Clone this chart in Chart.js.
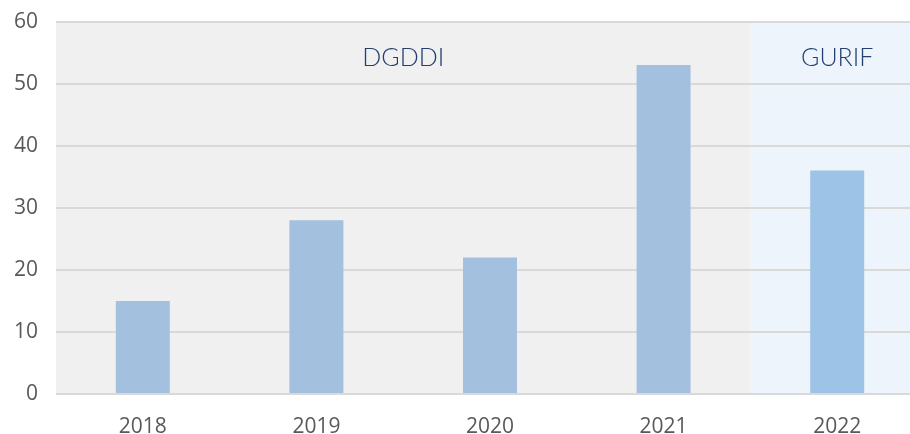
<!DOCTYPE html>
<html>
<head>
<meta charset="utf-8">
<script src="https://cdn.jsdelivr.net/npm/chart.js@4/dist/chart.umd.min.js"></script>
<style>
  html, body { margin: 0; padding: 0; background: #fff; overflow: hidden; }
  #wrap { width: 924px; height: 443px; margin-top: -9px; }
</style>
</head>
<body>
<div id="wrap"><canvas id="myChart"></canvas></div>
<script>
var years = ["2018", "2019", "2020", "2021", "2022"];
var values = [15, 28, 22, 53, 36];
var barColors = ["#a3c1df", "#a3c1df", "#a3c1df", "#a3c1df", "#9dc3e6"];
// shaded periods: first and last category index of each
var periodNames = ["DGDDI", "GURIF"];
var periodStart = [0, 4];
var periodEnd = [3, 4];
var periodColors = ["#f0f0f0", "#edf4fb"];

var bands = {
  id: "bands",
  beforeDraw: function (chart) {
    var ctx = chart.ctx;
    var x = chart.scales.x, y = chart.scales.y;
    var top = y.getPixelForValue(60), bottom = y.getPixelForValue(0);
    for (var i = 0; i < periodNames.length; i++) {
      var l = x.getPixelForValue(periodStart[i] - 0.5);
      var r = x.getPixelForValue(periodEnd[i] + 0.5);
      ctx.save();
      ctx.fillStyle = periodColors[i];
      ctx.fillRect(l, top, r - l, bottom - top);
      ctx.restore();
    }
  },
  afterDatasetsDraw: function (chart) {
    var ctx = chart.ctx;
    var x = chart.scales.x, y = chart.scales.y;
    ctx.save();
    ctx.font = "300 25px Lato";
    ctx.fillStyle = "#22406f";
    ctx.textAlign = "center";
    ctx.textBaseline = "middle";
    for (var i = 0; i < periodNames.length; i++) {
      var l = x.getPixelForValue(periodStart[i] - 0.5);
      var r = x.getPixelForValue(periodEnd[i] + 0.5);
      ctx.fillText(periodNames[i], (l + r) / 2, y.getPixelForValue(54.1));
    }
    ctx.restore();
  }
};

var ctx = document.getElementById("myChart");
var myChart = new Chart(ctx, {
  type: "bar",
  data: {
    labels: years,
    datasets: [{
      data: values,
      backgroundColor: barColors,
      barPercentage: 0.311,
      categoryPercentage: 1
    }]
  },
  options: {
    responsive: true,
    maintainAspectRatio: false,
    animation: false,
    layout: { padding: { top: 4, right: 0, bottom: 0, left: 0 } },
    plugins: { legend: { display: false }, tooltip: { enabled: false } },
    scales: {
      x: {
        afterFit: function (s) { s.height = 40; },
        grid: { display: false, drawTicks: false },
        border: { display: false },
        ticks: { color: "#595959", font: { family: "Open Sans", size: 21 }, padding: 20 }
      },
      y: {
        min: 0,
        max: 60,
        afterFit: function (s) { s.width = 56; },
        grid: { color: "#d9d9d9", lineWidth: 2, drawTicks: false },
        border: { display: false },
        ticks: { stepSize: 10, color: "#595959", font: { family: "Open Sans", size: 21 }, padding: 18 }
      }
    }
  },
  plugins: [bands]
});
</script>
</body>
</html>
